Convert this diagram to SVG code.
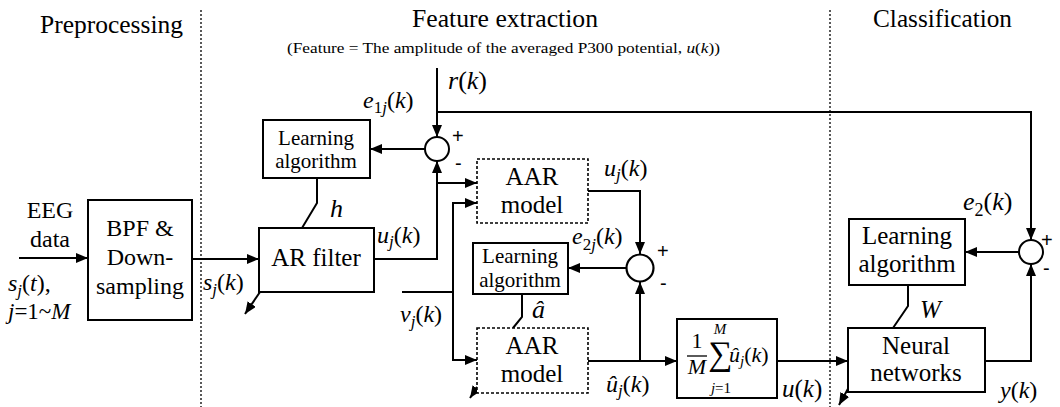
<svg xmlns="http://www.w3.org/2000/svg" width="1060" height="407" viewBox="0 0 1060 407">
  <style>
    .i { font-style: italic; }
    .box { fill: #fff; stroke: #000; stroke-width: 2; }
    .dbox { fill: #fff; stroke: #000; stroke-width: 1.6; stroke-dasharray: 3 2; }
    .wire { fill: none; stroke: #000; stroke-width: 2; }
    .arr { fill: none; stroke: #000; stroke-width: 2; marker-end: url(#ah); }
    .sep { stroke: #000; stroke-width: 1.3; stroke-dasharray: 2 2; }
  </style>
  <defs>
    <marker id="ah" viewBox="0 0 12 10" refX="12" refY="5" markerWidth="12" markerHeight="10" orient="auto" markerUnits="userSpaceOnUse">
      <path d="M0,0 L12,5 L0,10 z" fill="#000"/>
    </marker>
  </defs>

  <rect width="1060" height="407" fill="#fff"/>

  <!-- stage separators and headings -->
  <g id="stages">
    <line class="sep" x1="201" y1="10" x2="201" y2="407"/>
    <line class="sep" x1="830" y1="10" x2="830" y2="407"/>
    <text font-family="Liberation Serif" font-size="25" x="40" y="33" textLength="143" lengthAdjust="spacingAndGlyphs">Preprocessing</text>
    <text font-family="Liberation Serif" font-size="25" x="412" y="27" textLength="186" lengthAdjust="spacingAndGlyphs">Feature extraction</text>
    <text font-family="Liberation Serif" font-size="25" x="873" y="27" textLength="139" lengthAdjust="spacingAndGlyphs">Classification</text>
    <text font-family="Liberation Serif" x="287" y="53" font-size="15" textLength="433" lengthAdjust="spacingAndGlyphs">(Feature =  The amplitude of the averaged P300 potential, <tspan class="i">u</tspan>(<tspan class="i">k</tspan>))</text>
  </g>

  <!-- connectors -->
  <g id="connectors">
    <line class="arr" x1="19" y1="258" x2="88" y2="258"/>
    <line class="arr" x1="192" y1="259" x2="259" y2="259"/>
    <polyline class="arr" points="374,259 437,259 437,161"/>
    <line class="arr" x1="437" y1="183" x2="477" y2="183"/>
    <line class="arr" x1="437" y1="68" x2="437" y2="137"/>
    <polyline class="arr" points="437,112 1031,112 1031,240"/>
    <line class="arr" x1="425" y1="149" x2="370" y2="149"/>
    <polyline class="wire" points="317,178 317,203 302,228"/>
    <line class="arr" x1="273" y1="273" x2="245" y2="314"/>
    <line class="wire" x1="402" y1="292" x2="453" y2="292"/>
    <polyline class="arr" points="453,292 453,203 477,203"/>
    <polyline class="arr" points="453,292 453,360 477,360"/>
    <polyline class="arr" points="588,191 640,191 640,254"/>
    <line class="arr" x1="627" y1="268" x2="568" y2="268"/>
    <polyline class="wire" points="522,294 522,317 513,328"/>
    <line class="arr" x1="497" y1="358" x2="470" y2="398"/>
    <line class="arr" x1="588" y1="361" x2="677" y2="361"/>
    <line class="arr" x1="640" y1="361" x2="640" y2="282"/>
    <line class="arr" x1="777" y1="361" x2="848" y2="361"/>
    <line class="arr" x1="865" y1="358" x2="839" y2="405"/>
    <polyline class="wire" points="908,285 908,306 893,328"/>
    <polyline class="arr" points="985,361 1031,361 1031,264"/>
    <line class="arr" x1="1019" y1="252" x2="965" y2="252"/>
  </g>

  <!-- preprocessing input -->
  <g id="eeg-input">
    <text font-family="Liberation Serif" font-size="24" text-anchor="middle" x="50" y="218">EEG</text>
    <text font-family="Liberation Serif" font-size="24" text-anchor="middle" x="50" y="247">data</text>
    <text font-family="Liberation Serif" font-size="24" x="8" y="291"><tspan class="i">s</tspan><tspan class="i" font-size="17" dy="5">j</tspan><tspan dy="-5">(</tspan><tspan class="i">t</tspan>),</text>
    <text font-family="Liberation Serif" font-size="23" x="8" y="319"><tspan class="i">j</tspan>=1~<tspan class="i">M</tspan></text>
  </g>

  <g id="bpf">
    <rect class="box" x="88" y="200" width="104" height="120"/>
    <text font-family="Liberation Serif" font-size="24" text-anchor="middle" x="140" y="236">BPF &amp;</text>
    <text font-family="Liberation Serif" font-size="24" text-anchor="middle" x="140" y="265">Down-</text>
    <text font-family="Liberation Serif" font-size="24" text-anchor="middle" x="140" y="294">sampling</text>
  </g>

  <g id="label-sk">
    <text font-family="Liberation Serif" font-size="24" x="203" y="290"><tspan class="i">s</tspan><tspan class="i" font-size="17" dy="5">j</tspan><tspan dy="-5">(</tspan><tspan class="i">k</tspan>)</text>
  </g>

  <g id="ar-filter">
    <rect class="box" x="259" y="228" width="115" height="64"/>
    <text font-family="Liberation Serif" font-size="25" text-anchor="middle" x="316" y="266">AR filter</text>
  </g>

  <g id="learning-1">
    <rect class="box" x="263" y="120" width="107" height="58"/>
    <text font-family="Liberation Serif" font-size="21" text-anchor="middle" x="316" y="145">Learning</text>
    <text font-family="Liberation Serif" font-size="21" text-anchor="middle" x="316" y="168">algorithm</text>
  </g>

  <g id="sum-1">
    <circle cx="437" cy="149" r="12" fill="#fff" stroke="#000" stroke-width="2"/>
    <text font-family="Liberation Sans" font-size="20" x="452" y="143">+</text>
    <text font-family="Liberation Sans" font-size="20" x="455" y="170">-</text>
  </g>

  <g id="aar-1">
    <rect class="dbox" x="477" y="159" width="111" height="64"/>
    <text font-family="Liberation Serif" font-size="25" text-anchor="middle" x="532" y="185">AAR</text>
    <text font-family="Liberation Serif" font-size="25" text-anchor="middle" x="532" y="213">model</text>
  </g>

  <g id="learning-2">
    <rect class="box" x="473" y="243" width="95" height="51"/>
    <text font-family="Liberation Serif" font-size="21" text-anchor="middle" x="520" y="263">Learning</text>
    <text font-family="Liberation Serif" font-size="21" text-anchor="middle" x="520" y="287">algorithm</text>
  </g>

  <g id="sum-2">
    <circle cx="640" cy="268" r="13.5" fill="#fff" stroke="#000" stroke-width="2.2"/>
    <text font-family="Liberation Sans" font-size="20" x="657" y="258">+</text>
    <text font-family="Liberation Sans" font-size="20" x="660" y="290">-</text>
  </g>

  <g id="aar-2">
    <rect class="dbox" x="477" y="328" width="111" height="65"/>
    <text font-family="Liberation Serif" font-size="25" text-anchor="middle" x="532" y="354">AAR</text>
    <text font-family="Liberation Serif" font-size="25" text-anchor="middle" x="532" y="382">model</text>
  </g>

  <g id="average">
    <rect class="box" x="677" y="319" width="100" height="79"/>
    <text font-family="Liberation Serif" x="697" y="348" font-size="22" text-anchor="middle">1</text>
    <line x1="687" y1="356" x2="707" y2="356" stroke="#000" stroke-width="1.3"/>
    <text font-family="Liberation Serif" font-style="italic" x="697" y="374" font-size="22" text-anchor="middle">M</text>
    <text font-family="Liberation Serif" font-style="italic" x="720" y="334" font-size="15" text-anchor="middle">M</text>
    <text font-family="Liberation Serif" x="720" y="365" font-size="34" text-anchor="middle">∑</text>
    <text font-family="Liberation Serif" x="721" y="393" font-size="15" text-anchor="middle"><tspan class="i">j</tspan>=1</text>
    <text font-family="Liberation Serif" x="729" y="362" font-size="22"><tspan class="i">û</tspan><tspan class="i" font-size="15" dy="4">j</tspan><tspan dy="-4">(</tspan><tspan class="i">k</tspan>)</text>
  </g>

  <g id="learning-3">
    <rect class="box" x="849" y="219" width="116" height="66"/>
    <text font-family="Liberation Serif" font-size="25" text-anchor="middle" x="907" y="244">Learning</text>
    <text font-family="Liberation Serif" font-size="25" text-anchor="middle" x="907" y="272">algorithm</text>
  </g>

  <g id="neural-net">
    <rect class="box" x="848" y="328" width="137" height="64"/>
    <text font-family="Liberation Serif" font-size="25" text-anchor="middle" x="916" y="354">Neural</text>
    <text font-family="Liberation Serif" font-size="25" text-anchor="middle" x="916" y="381">networks</text>
  </g>

  <g id="sum-3">
    <circle cx="1031" cy="252" r="12" fill="#fff" stroke="#000" stroke-width="2"/>
    <text font-family="Liberation Sans" font-size="20" x="1041" y="247">+</text>
    <text font-family="Liberation Sans" font-size="20" x="1043" y="275">-</text>
  </g>

  <!-- signal labels -->
  <g id="signal-labels">
    <text font-family="Liberation Serif" font-size="26" x="448" y="89"><tspan class="i">r</tspan>(<tspan class="i">k</tspan>)</text>
    <text font-family="Liberation Serif" font-size="24" x="363" y="108"><tspan class="i">e</tspan><tspan font-size="17" dy="5">1</tspan><tspan class="i" font-size="17">j</tspan><tspan dy="-5">(</tspan><tspan class="i">k</tspan>)</text>
    <text font-family="Liberation Serif" font-size="26" font-style="italic" x="330" y="217">h</text>
    <text font-family="Liberation Serif" font-size="24" x="377" y="243"><tspan class="i">u</tspan><tspan class="i" font-size="17" dy="4">j</tspan><tspan dy="-4">(</tspan><tspan class="i">k</tspan>)</text>
    <text font-family="Liberation Serif" font-size="24" x="400" y="322"><tspan class="i">v</tspan><tspan class="i" font-size="17" dy="5">j</tspan><tspan dy="-5">(</tspan><tspan class="i">k</tspan>)</text>
    <text font-family="Liberation Serif" font-size="26" font-style="italic" x="532" y="318">â</text>
    <text font-family="Liberation Serif" font-size="24" x="604" y="176"><tspan class="i">u</tspan><tspan class="i" font-size="17" dy="4">j</tspan><tspan dy="-4">(</tspan><tspan class="i">k</tspan>)</text>
    <text font-family="Liberation Serif" font-size="24" x="572" y="244"><tspan class="i">e</tspan><tspan font-size="17" dy="6">2</tspan><tspan class="i" font-size="17">j</tspan><tspan dy="-6">(</tspan><tspan class="i">k</tspan>)</text>
    <text font-family="Liberation Serif" font-size="24" x="606" y="392"><tspan class="i">û</tspan><tspan class="i" font-size="17" dy="4">j</tspan><tspan dy="-4">(</tspan><tspan class="i">k</tspan>)</text>
    <text font-family="Liberation Serif" font-size="25" x="782" y="397"><tspan class="i">u</tspan>(<tspan class="i">k</tspan>)</text>
    <text font-family="Liberation Serif" font-size="25" font-style="italic" x="920" y="318">W</text>
    <text font-family="Liberation Serif" font-size="26" x="963" y="210"><tspan class="i">e</tspan><tspan font-size="18" dy="6">2</tspan><tspan dy="-6">(</tspan><tspan class="i">k</tspan>)</text>
    <text font-family="Liberation Serif" font-size="24" x="1000" y="398"><tspan class="i">y</tspan>(<tspan class="i">k</tspan>)</text>
  </g>
</svg>
